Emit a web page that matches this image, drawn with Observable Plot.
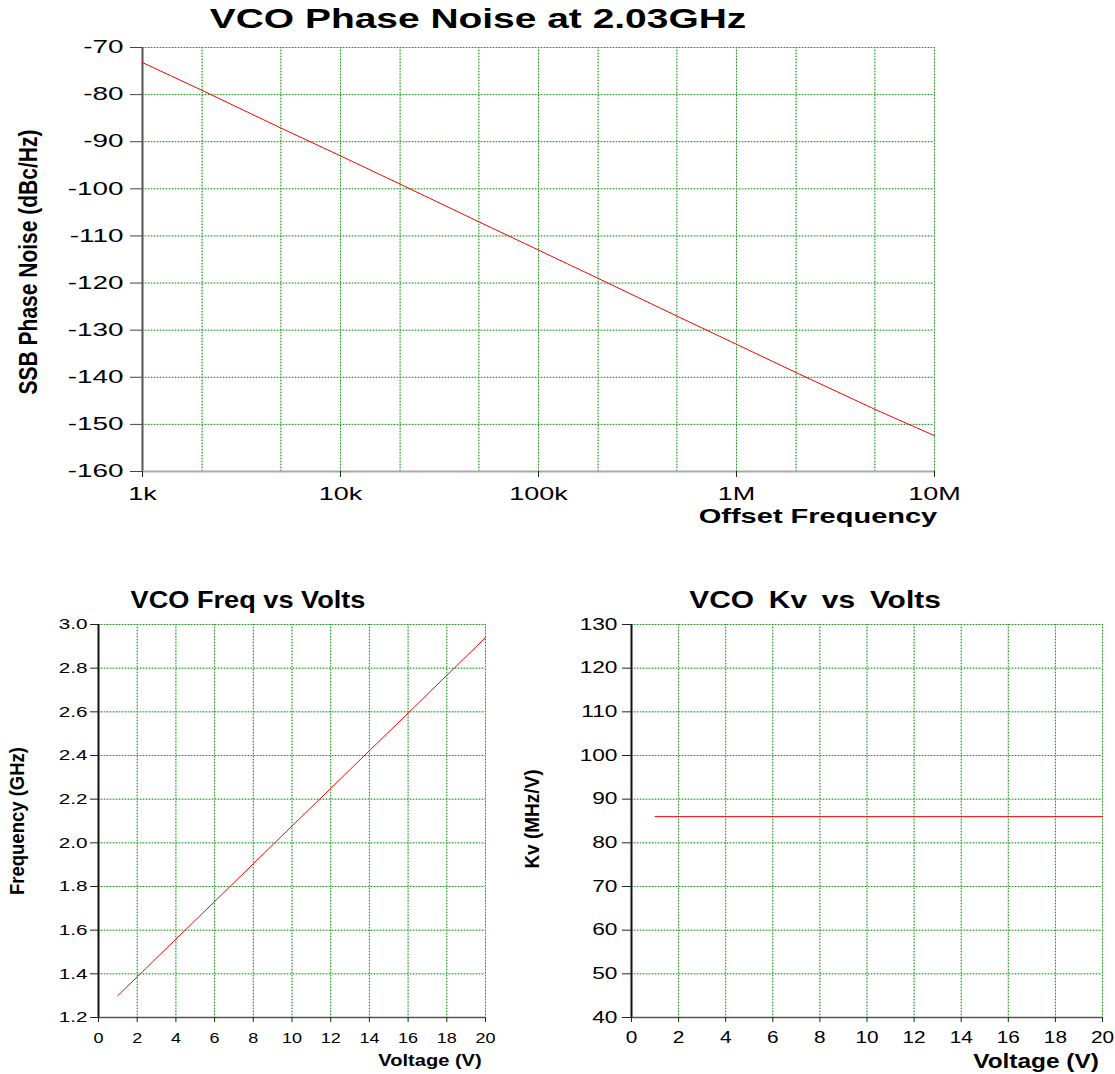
<!DOCTYPE html>
<html>
<head>
<meta charset="utf-8">
<script src="https://cdn.jsdelivr.net/npm/d3@7"></script>
<script src="https://cdn.jsdelivr.net/npm/@observablehq/plot@0.6"></script>
<style>
  html, body { margin: 0; padding: 0; background: #fff; }
  #root { position: relative; width: 1115px; height: 1074px; background: #fff; font-family: "Liberation Sans", Arial, sans-serif; overflow: hidden; }
  .title, .xlab, .ylab { position: absolute; font-weight: bold; color: #000; white-space: pre; line-height: 1; }
</style>
</head>
<body>
<div id="root"></div>
<script>
// ---------- Data ----------
// Phase noise vs offset frequency
const offsetFreqHz = [1e3, 2e3, 5e3, 1e4, 2e4, 5e4, 1e5, 2e5, 5e5, 1e6, 2e6, 5e6, 1e7];
const phaseNoiseDbc = [-73.2, -79.1, -87.1, -93.0, -99.0, -107.0, -113.0, -119.0, -127.0, -133.0, -139.0, -146.8, -152.4];
const freqGridTicks = [1e3, 2e3, 5e3, 1e4, 2e4, 5e4, 1e5, 2e5, 5e5, 1e6, 2e6, 5e6, 1e7];
const freqDecadeTicks = [1e3, 1e4, 1e5, 1e6, 1e7];
const freqDecadeLabels = ["1k", "10k", "100k", "1M", "10M"];
const phaseTicks = [-70, -80, -90, -100, -110, -120, -130, -140, -150, -160];

// Frequency vs tuning voltage
const tuneVolts = [1, 2, 4, 6, 8, 10, 12, 14, 16, 18, 20];
const vcoFreqGHz = [1.300, 1.386, 1.559, 1.731, 1.904, 2.077, 2.249, 2.422, 2.594, 2.767, 2.940];
const freqTicks = [1.2, 1.4, 1.6, 1.8, 2.0, 2.2, 2.4, 2.6, 2.8, 3.0];

// Kv vs tuning voltage
const kvVolts = [1, 20];
const kvMHzPerV = [86, 86];
const kvTicks = [40, 50, 60, 70, 80, 90, 100, 110, 120, 130];
const voltTicks = [0, 2, 4, 6, 8, 10, 12, 14, 16, 18, 20];

// ---------- Helpers ----------
const phaseData = offsetFreqHz.map((f, i) => ({f, pn: phaseNoiseDbc[i]}));
const freqData = tuneVolts.map((v, i) => ({v, g: vcoFreqGHz[i]}));
const kvData = kvVolts.map((v, i) => ({v, k: kvMHzPerV[i]}));

const gridLight = "#a6d9a6";
const gridDark = "#1f8f1f";
function grids(xTicks, yTicks) {
  return [
    Plot.gridX(xTicks, {stroke: gridLight, strokeOpacity: 1, strokeWidth: 1}),
    Plot.gridY(yTicks, {stroke: gridLight, strokeOpacity: 1, strokeWidth: 1}),
    Plot.gridX(xTicks, {stroke: gridDark, strokeOpacity: 1, strokeWidth: 1, strokeDasharray: "1,2"}),
    Plot.gridY(yTicks, {stroke: gridDark, strokeOpacity: 1, strokeWidth: 1, strokeDasharray: "1,2"})
  ];
}

// horizontally stretch tick labels (the reference text is wide)
function stretch(svg, which, sx) {
  svg.querySelectorAll(`g[aria-label="${which}-axis tick label"] text`).forEach(t => {
    let tr = t.getAttribute("transform");
    if (!tr) {
      const x = +t.getAttribute("x") || 0, y = +t.getAttribute("y") || 0;
      t.removeAttribute("x"); t.removeAttribute("y");
      tr = `translate(${x},${y})`;
    }
    t.setAttribute("transform", tr + ` scale(${sx},1)`);
  });
  return svg;
}

const root = document.getElementById("root");
function place(el, left, top) {
  el.style.position = "absolute";
  el.style.left = left + "px";
  el.style.top = top + "px";
  root.appendChild(el);
}
function addText(cls, text, cx, cy, size, sx, extra) {
  const d = document.createElement("div");
  d.className = cls;
  d.textContent = text;
  d.style.left = cx + "px";
  d.style.top = cy + "px";
  d.style.fontSize = size + "px";
  if (cls === "ylab") d.style.transform = `translate(-50%, -50%) rotate(-90deg) scaleY(${sx})`;
  else d.style.transform = `translate(-50%, -50%) scaleX(${sx})`;
  if (extra) Object.assign(d.style, extra);
  root.appendChild(d);
}

const baseStyle = {fontFamily: "Liberation Sans, Arial, sans-serif", color: "#000", background: "transparent", overflow: "visible"};

// ---------- Top: phase noise ----------
const topPlot = Plot.plot({
  width: 1115, height: 540,
  marginLeft: 142, marginRight: 181, marginTop: 47, marginBottom: 69,
  x: {type: "log", domain: [1e3, 1e7]},
  y: {domain: [-160, -70]},
  style: baseStyle,
  marks: [
    ...grids(freqGridTicks, phaseTicks),
    Plot.ruleX([1e3], {stroke: "#555", strokeWidth: 2}),
    Plot.ruleY([-160], {stroke: "#aaa", strokeWidth: 2}),
    Plot.axisY(phaseTicks, {tickFormat: d => String(d), tickSize: 12, tickPadding: 7, label: null, fontSize: 18, stroke: "#444"}),
    Plot.axisX(freqDecadeTicks, {tickFormat: d => freqDecadeLabels[freqDecadeTicks.indexOf(d)], tickSize: 6, tickPadding: 10, label: null, fontSize: 18, stroke: "#222"}),
    Plot.line(phaseData, {x: "f", y: "pn", stroke: "#ff0000", strokeWidth: 1})
  ]
});
stretch(topPlot, "y", 1.55);
stretch(topPlot, "x", 1.5);
place(topPlot, 0, 0);

// ---------- Bottom-left: frequency vs volts ----------
const leftPlot = Plot.plot({
  width: 560, height: 514,
  marginLeft: 98, marginRight: 75, marginTop: 64, marginBottom: 57,
  x: {domain: [0, 20]},
  y: {domain: [1.2, 3.0]},
  style: baseStyle,
  marks: [
    ...grids(voltTicks, freqTicks),
    Plot.ruleX([0], {stroke: "#111", strokeWidth: 2}),
    Plot.ruleY([1.2], {stroke: "#555", strokeWidth: 1.5}),
    Plot.axisY(freqTicks, {tickFormat: d => d.toFixed(1), tickSize: 8, tickPadding: 3, label: null, fontSize: 15, stroke: "#222"}),
    Plot.axisX(voltTicks, {tickFormat: d => String(d), tickSize: 5, tickPadding: 10, label: null, fontSize: 15, stroke: "#222"}),
    Plot.line(freqData, {x: "v", y: "g", stroke: "#ff0000", strokeWidth: 1})
  ]
});
stretch(leftPlot, "y", 1.38);
stretch(leftPlot, "x", 1.2);
place(leftPlot, 0, 560);

// ---------- Bottom-right: Kv vs volts ----------
const rightPlot = Plot.plot({
  width: 555, height: 514,
  marginLeft: 71, marginRight: 13, marginTop: 64, marginBottom: 57,
  x: {domain: [0, 20]},
  y: {domain: [40, 130]},
  style: baseStyle,
  marks: [
    ...grids(voltTicks, kvTicks),
    Plot.ruleX([0], {stroke: "#111", strokeWidth: 2}),
    Plot.ruleY([40], {stroke: "#555", strokeWidth: 1.5}),
    Plot.axisY(kvTicks, {tickFormat: d => String(d), tickSize: 9, tickPadding: 5, label: null, fontSize: 16, stroke: "#222"}),
    Plot.axisX(voltTicks, {tickFormat: d => String(d), tickSize: 5, tickPadding: 9, label: null, fontSize: 16, stroke: "#222"}),
    Plot.line(kvData, {x: "v", y: "k", stroke: "#ff0000", strokeWidth: 1})
  ]
});
stretch(rightPlot, "y", 1.42);
stretch(rightPlot, "x", 1.3);
place(rightPlot, 560, 560);

// ---------- Titles & labels (centre positions) ----------
addText("title", "VCO Phase Noise at 2.03GHz", 478, 19, 28, 1.39);
addText("xlab", "Offset Frequency", 818, 516, 20, 1.45);
addText("ylab", "SSB Phase Noise (dBc/Hz)", 28, 262, 21, 1.25);

addText("title", "VCO Freq vs Volts", 248, 600, 23, 1.18);
addText("xlab", "Voltage (V)", 430, 1060, 17, 1.18);
addText("ylab", "Frequency (GHz)", 18, 821, 18.5, 1.1);

addText("title", "VCO Kv vs Volts", 815, 600, 23, 1.3, {wordSpacing: "5px"});
addText("xlab", "Voltage (V)", 1036, 1061, 20, 1.22);
addText("ylab", "Kv (MHz/V)", 532, 819, 19, 1.1);
</script>
</body>
</html>
